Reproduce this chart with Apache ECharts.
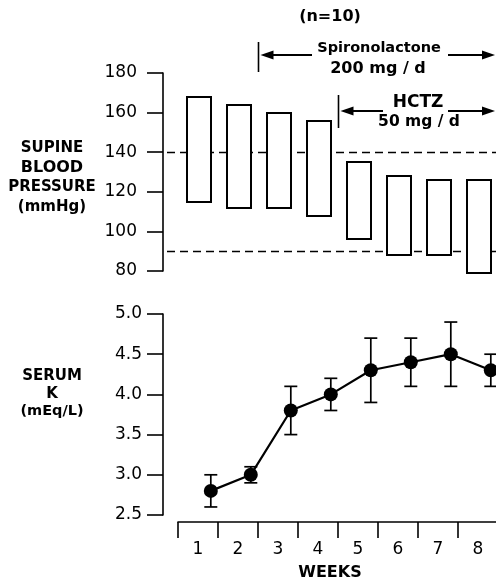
<!DOCTYPE html>
<html>
<head>
<meta charset="utf-8">
<script src="https://cdn.jsdelivr.net/npm/echarts@6/dist/echarts.min.js"></script>
<style>
  html, body { margin: 0; padding: 0; background: #fff; }
  #chart { width: 496px; height: 583px; }
</style>
</head>
<body>
<div id="chart"></div>
<script>
// Weekly supine blood pressure ranges and serum potassium (n=10)
const weekLabels = ['1', '2', '3', '4', '5', '6', '7', '8'];
const weekNums = [1, 2, 3, 4, 5, 6, 7, 8];

// Supine blood pressure range per week (mmHg)
const bpHigh = [168, 164, 160, 156, 135, 128, 126, 126];
const bpLow = [115, 112, 112, 108, 96, 88, 88, 79];
const bpRefLines = [140, 90];

// Serum K (mEq/L): mean with error range
const kMean = [2.8, 3.0, 3.8, 4.0, 4.3, 4.4, 4.5, 4.3];
const kLow = [2.6, 2.9, 3.5, 3.8, 3.9, 4.1, 4.1, 4.1];
const kHigh = [3.0, 3.1, 4.1, 4.2, 4.7, 4.7, 4.9, 4.5];

// Treatment periods start at the boundary before these weeks
const spiroStartWeek = 3;
const hctzStartWeek = 5;

const FONT = 'DejaVu Sans';
const POINT_SHIFT = 0.32; // K points sit toward the right side of each week slot

const chart = echarts.init(document.getElementById('chart'), null, { renderer: 'canvas' });

function renderBox(params, api) {
  const x = api.value(0);
  const pTop = api.coord([x, api.value(2)]);
  const pBot = api.coord([x, api.value(1)]);
  const w = 24;
  return {
    type: 'rect',
    shape: { x: Math.round(pTop[0] - w / 2 + 1), y: Math.round(pTop[1]), width: w, height: Math.round(pBot[1] - pTop[1]) },
    style: { fill: '#fff', stroke: '#000', lineWidth: 2 }
  };
}

function renderRef(params, api) {
  const y = Math.round(api.coord([1, api.value(1)])[1]) + 0.5;
  const cs = params.coordSys;
  return {
    type: 'line',
    shape: { x1: cs.x - 11, y1: y, x2: cs.x + cs.width, y2: y },
    style: { stroke: '#000', lineWidth: 1.3, lineDash: [8, 5] }
  };
}

function renderErr(params, api) {
  const x = api.value(0);
  const top = api.coord([x, api.value(2)]);
  const bot = api.coord([x, api.value(1)]);
  const hw = 6.5;
  const st = { stroke: '#000', lineWidth: 1.7 };
  return {
    type: 'group',
    children: [
      { type: 'line', shape: { x1: top[0], y1: top[1], x2: bot[0], y2: bot[1] }, style: st },
      { type: 'line', shape: { x1: top[0] - hw, y1: top[1], x2: top[0] + hw, y2: top[1] }, style: st },
      { type: 'line', shape: { x1: bot[0] - hw, y1: bot[1], x2: bot[0] + hw, y2: bot[1] }, style: st }
    ]
  };
}

const axisBlack = { lineStyle: { color: '#000', width: 1.6 } };

chart.setOption({
  animation: false,
  backgroundColor: '#fff',
  grid: [
    { left: 178, width: 320, top: 73, height: 198, containLabel: false, outerBoundsMode: 'none' },
    { left: 178, width: 320, top: 314, height: 201, containLabel: false, outerBoundsMode: 'none' }
  ],
  xAxis: [
    { gridIndex: 0, type: 'value', min: 0.5, max: 8.5, show: false },
    {
      gridIndex: 1, type: 'category', data: weekLabels, boundaryGap: true, offset: 7,
      axisLine: axisBlack,
      axisTick: { show: true, length: 16, inside: false, alignWithLabel: false, lineStyle: { color: '#000', width: 1.6 } },
      axisLabel: { color: '#000', fontFamily: FONT, fontSize: 17, margin: 19 },
      splitLine: { show: false }
    },
    { gridIndex: 1, type: 'value', min: 0.5, max: 8.5, show: false }
  ],
  yAxis: [
    {
      gridIndex: 0, type: 'value', min: 80, max: 180, interval: 20, offset: 15,
      axisLine: { show: true, lineStyle: { color: '#000', width: 1.6 } },
      axisTick: { show: true, length: 16, inside: false, lineStyle: { color: '#000', width: 1.6 } },
      axisLabel: { color: '#000', fontFamily: FONT, fontSize: 17, margin: 26 },
      splitLine: { show: false }
    },
    {
      gridIndex: 1, type: 'value', min: 2.5, max: 5.0, interval: 0.5, offset: 15,
      axisLine: { show: true, lineStyle: { color: '#000', width: 1.6 } },
      axisTick: { show: true, length: 16, inside: false, lineStyle: { color: '#000', width: 1.6 } },
      axisLabel: { color: '#000', fontFamily: FONT, fontSize: 17, margin: 21, formatter: v => v.toFixed(1) },
      splitLine: { show: false }
    }
  ],
  series: [
    {
      type: 'custom', xAxisIndex: 0, yAxisIndex: 0, z: 1, clip: false,
      data: bpRefLines.map(v => [0.5, v]),
      encode: { x: 0, y: 1 },
      renderItem: renderRef
    },
    {
      type: 'custom', xAxisIndex: 0, yAxisIndex: 0, z: 2, clip: false,
      data: weekNums.map((w, i) => [w, bpLow[i], bpHigh[i]]),
      encode: { x: 0, y: [1, 2] },
      renderItem: renderBox
    },
    {
      type: 'custom', xAxisIndex: 2, yAxisIndex: 1, z: 2, clip: false,
      data: weekNums.map((w, i) => [w + POINT_SHIFT, kLow[i], kHigh[i]]),
      encode: { x: 0, y: [1, 2] },
      renderItem: renderErr
    },
    {
      type: 'line', xAxisIndex: 2, yAxisIndex: 1, z: 3,
      data: weekNums.map((w, i) => [w + POINT_SHIFT, kMean[i]]),
      symbol: 'circle', symbolSize: 14, showSymbol: true,
      itemStyle: { color: '#000' },
      lineStyle: { color: '#000', width: 2.2 },
      clip: false
    }
  ]
});

// Labels and treatment-period annotations
const spiroX = Math.round(chart.convertToPixel({ xAxisIndex: 0 }, spiroStartWeek - 0.5)) + 0.5;
const hctzX = Math.round(chart.convertToPixel({ xAxisIndex: 0 }, hctzStartWeek - 0.5)) + 0.5;

function txt(x, y, text, size) {
  return {
    type: 'text', x: x, y: y, silent: true,
    style: { text: text, fill: '#000', font: 'bold ' + size + 'px "' + FONT + '"', textAlign: 'center', textVerticalAlign: 'middle' }
  };
}
function vline(x, y1, y2) {
  return { type: 'line', shape: { x1: x, y1: y1, x2: x, y2: y2 }, style: { stroke: '#000', lineWidth: 1.6 } };
}
function hline(x1, x2, y) {
  return { type: 'line', shape: { x1: x1, y1: y, x2: x2, y2: y }, style: { stroke: '#000', lineWidth: 2 } };
}
function head(tipX, y, dir) {
  const back = tipX - dir * 13;
  return { type: 'polygon', shape: { points: [[tipX, y], [back, y - 4.5], [back, y + 4.5]] }, style: { fill: '#000' } };
}

const spiroY = 55, hctzY = 111, arrowEnd = 495;

chart.setOption({
  graphic: [
    txt(330, 17, '(n=10)', 16),
    // Spironolactone period
    vline(spiroX, 42, 72),
    head(spiroX + 2, spiroY, -1),
    hline(spiroX + 14, 312, spiroY),
    txt(379, 48, 'Spironolactone', 14.5),
    txt(378, 69, '200 mg / d', 16),
    hline(448, arrowEnd - 12, spiroY),
    head(arrowEnd, spiroY, 1),
    // HCTZ period
    vline(hctzX, 95, 128),
    head(hctzX + 2, hctzY, -1),
    hline(hctzX + 14, 383, hctzY),
    txt(418, 103, 'HCTZ', 17),
    txt(419, 122, '50 mg / d', 15.5),
    hline(448, arrowEnd - 12, hctzY),
    head(arrowEnd, hctzY, 1),
    // Axis titles
    txt(52, 148, 'SUPINE', 15),
    txt(52, 168, 'BLOOD', 16),
    txt(52, 187, 'PRESSURE', 15),
    txt(52, 207, '(mmHg)', 15),
    txt(52, 376, 'SERUM', 15),
    txt(52, 394, 'K', 15),
    txt(52, 411, '(mEq/L)', 14.5),
    txt(330, 573, 'WEEKS', 16)
  ]
});
</script>
</body>
</html>
